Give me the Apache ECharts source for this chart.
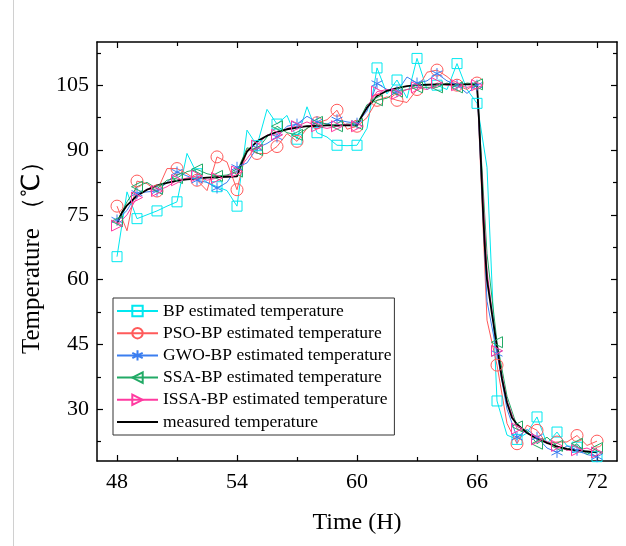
<!DOCTYPE html>
<html>
<head>
<meta charset="utf-8">
<script src="https://cdn.jsdelivr.net/npm/echarts@6/dist/echarts.min.js"></script>
<style>html,body{margin:0;padding:0;background:#fff}#c{width:626px;height:546px}</style>
</head>
<body>
<div id="c"></div>
<script>
// ---- data ----
const timeGrid = [48,48.5,49,49.5,50,50.5,51,51.5,52,52.5,53,53.5,54,54.5,55,55.5,56,56.5,57,57.5,58,58.5,59,59.5,60,60.5,61,61.5,62,62.5,63,63.5,64,64.5,65,65.5,66,66.5,67,67.5,68,68.5,69,69.5,70,70.5,71,71.5,72];

const bpTemp   = [65.3,80.3,74.1,75.0,75.9,77.0,78.0,89.2,84.5,82.5,81.5,80.6,77.0,94.6,91.0,99.4,96.0,98.0,92.5,100.0,94.0,93.0,91.1,91.0,91.1,95.0,109.0,103.0,106.2,102.0,111.2,104.0,105.0,104.0,110.0,104.0,100.8,86.0,31.9,24.0,23.0,24.5,28.2,22.0,24.7,21.5,21.2,20.0,19.0];
const psoTemp  = [77.0,71.3,82.8,82.2,80.5,85.7,85.7,84.5,83.0,80.6,88.4,87.2,80.8,90.3,89.2,89.2,90.8,93.8,92.0,95.0,96.3,97.0,99.2,94.8,95.5,97.5,101.5,102.3,101.5,101.0,104.0,108.0,108.5,107.0,105.0,104.0,105.5,50.6,40.2,26.7,22.0,26.3,25.1,22.0,22.4,22.4,23.9,21.6,22.6];
const gwoTemp  = [73.8,76.0,80.0,80.3,80.5,82.5,84.9,84.0,83.0,82.5,81.2,82.5,86.0,87.0,90.5,91.5,93.0,95.5,96.0,97.8,96.5,96.0,97.0,96.5,96.2,99.0,105.4,104.0,103.5,106.9,105.5,106.0,107.7,106.0,105.0,103.1,105.0,55.0,42.9,30.0,23.5,25.3,23.5,21.0,20.0,21.5,20.5,19.5,19.0];
const ssaTemp  = [73.5,78.0,81.5,82.5,81.0,83.0,83.5,85.0,85.5,84.5,84.0,84.2,85.0,90.5,90.0,93.0,95.5,94.0,93.5,95.0,96.5,96.0,95.5,96.0,96.0,100.5,101.5,102.0,103.5,104.0,104.5,104.5,104.5,105.5,104.5,105.5,105.2,66.0,45.5,33.0,26.0,25.0,22.0,23.5,21.5,20.5,22.0,19.5,21.0];
const issaTemp = [72.5,75.0,79.0,81.0,80.5,81.5,83.0,83.5,84.0,83.0,83.5,84.0,85.0,88.0,91.0,93.5,93.5,95.0,95.5,96.5,95.5,95.0,95.5,96.0,95.5,100.0,103.5,104.0,103.0,104.0,104.5,104.0,105.5,105.0,105.0,104.5,105.0,62.0,43.5,32.0,25.5,24.5,23.0,22.5,21.5,20.5,20.5,21.0,20.0];

const measuredTime = [48,48.25,48.5,49,49.5,50,50.5,51,51.5,52,52.5,53,53.5,54,54.25,54.5,55,55.5,56,56.5,57,57.5,58,58.5,59,59.5,60,60.25,60.5,61,61.5,62,62.5,63,63.5,64,64.5,65,65.5,66,66.1,66.2,66.3,66.4,66.5,66.75,67,67.25,67.5,67.75,68,68.5,69,69.5,70,70.5,71,71.5,72];
const measuredTemp = [73.0,75.5,77.2,79.4,80.8,81.8,82.4,82.9,83.2,83.4,83.6,83.7,83.8,83.9,87.2,89.6,92.0,93.3,94.2,94.8,95.2,95.5,95.6,95.7,95.7,95.7,95.7,97.9,99.8,102.5,103.7,104.3,104.8,105.0,105.1,105.2,105.2,105.2,105.2,105.2,97,87,76,67,60,52,44.5,37,31.5,28,26.5,24.5,23.2,22.2,21.3,20.8,20.4,20.2,20.0];

const xMajor = [48,54,60,66,72];
const xMinor = [51,57,63,69];
const yMajor = [30,45,60,75,90,105];
const yMinor = [22.5,37.5,52.5,67.5,82.5,97.5,112.5];

const seriesNames = ['BP estimated temperature','PSO-BP estimated temperature','GWO-BP estimated temperature','SSA-BP estimated temperature','ISSA-BP estimated temperature','measured temperature'];

// ---- chart ----
const FONT = "'Liberation Serif','Times New Roman',serif";
const X0 = 47, X1 = 73, Y0 = 18, Y1 = 115;
const pairs = (xs, ys) => xs.map((x, i) => [x, ys[i]]);

function xAx(pos, ticks, len, label, line, name) {
  return {
    type: 'value', position: pos, min: X0, max: X1,
    axisLine: { show: line, onZero: false, lineStyle: { color: '#000', width: 1.5 } },
    axisTick: { show: true, inside: true, length: len, customValues: ticks, lineStyle: { color: '#000', width: 1.2 } },
    axisLabel: label ? { show: true, customValues: ticks, color: '#000', fontSize: 22, fontFamily: FONT, margin: 10 } : { show: false },
    splitLine: { show: false },
    name: name || '', nameLocation: 'middle', nameGap: 50,
    nameTextStyle: { color: '#000', fontSize: 24, fontFamily: FONT }
  };
}
function yAx(pos, ticks, len, label, line, name) {
  return {
    type: 'value', position: pos, min: Y0, max: Y1,
    axisLine: { show: line, onZero: false, lineStyle: { color: '#000', width: 1.5 } },
    axisTick: { show: true, inside: true, length: len, customValues: ticks, lineStyle: { color: '#000', width: 1.2 } },
    axisLabel: label ? { show: true, customValues: ticks, color: '#000', fontSize: 22, fontFamily: FONT, margin: 8 } : { show: false },
    splitLine: { show: false },
    name: name || '', nameLocation: 'middle', nameGap: 52, nameRotate: 90,
    nameTextStyle: { color: '#000', fontSize: 25, fontFamily: FONT }
  };
}

const STAR = 'path://M0,-10L0,10M-8.66,-5L8.66,5M-8.66,5L8.66,-5';
const LTRI = 'path://M-9,0L8,-9L8,9Z';
const RTRI = 'path://M9,0L-8,-9L-8,9Z';

function est(name, ys, color, symbol, size) {
  return {
    name, type: 'line', data: pairs(timeGrid, ys),
    symbol, showSymbol: true, showAllSymbol: true,
    symbolSize: (v, p) => (p.dataIndex % 2 === 0 ? size : 0),
    lineStyle: { color, width: 1 },
    itemStyle: { color: 'rgba(255,255,255,0)', borderColor: color, borderWidth: 1 },
    emphasis: { disabled: true },
    animation: false
  };
}

const legendData = seriesNames.map((n, i) => i === 5 ? { name: n, itemStyle: { opacity: 0 } } : { name: n });

const chart = echarts.init(document.getElementById('c'), null, { renderer: 'canvas' });
chart.setOption({
  backgroundColor: '#fff',
  animation: false,
  graphic: [{
    type: 'line', shape: { x1: 13.5, y1: 0, x2: 13.5, y2: 546 },
    style: { stroke: '#d0d0d0', lineWidth: 1 }, silent: true
  }],
  grid: { left: 97, right: 9, top: 42, bottom: 85, containLabel: false },
  xAxis: [
    xAx('bottom', xMajor, 6, true, true, 'Time (H)'),
    xAx('bottom', xMinor, 4, false, false),
    xAx('top', xMajor, 6, false, true),
    xAx('top', xMinor, 4, false, false)
  ],
  yAxis: [
    yAx('left', yMajor, 6, true, true, 'Temperature （℃）'),
    yAx('left', yMinor, 4, false, false),
    yAx('right', yMajor, 6, false, true),
    yAx('right', yMinor, 4, false, false)
  ],
  legend: {
    orient: 'vertical', left: 113, top: 298,
    data: legendData,
    itemWidth: 41, itemHeight: 13, itemGap: 4.2,
    padding: [4, 3, 4, 3],
    borderColor: '#333', borderWidth: 1,
    textStyle: { color: '#000', fontSize: 17.5, fontFamily: FONT },
    selectedMode: false
  },
  series: [
    est(seriesNames[0], bpTemp, '#00e8f0', 'rect', 10),
    est(seriesNames[1], psoTemp, '#ff5a5a', 'circle', 12),
    est(seriesNames[2], gwoTemp, '#3b7ef0', STAR, 11),
    est(seriesNames[3], ssaTemp, '#22aa66', LTRI, 11),
    est(seriesNames[4], issaTemp, '#ff3aa0', RTRI, 11),
    {
      name: seriesNames[5], type: 'line', data: pairs(measuredTime, measuredTemp),
      symbol: 'none', lineStyle: { color: '#000', width: 1.8 },
      itemStyle: { color: '#000' }, emphasis: { disabled: true }, animation: false
    }
  ]
});
</script>
</body>
</html>
